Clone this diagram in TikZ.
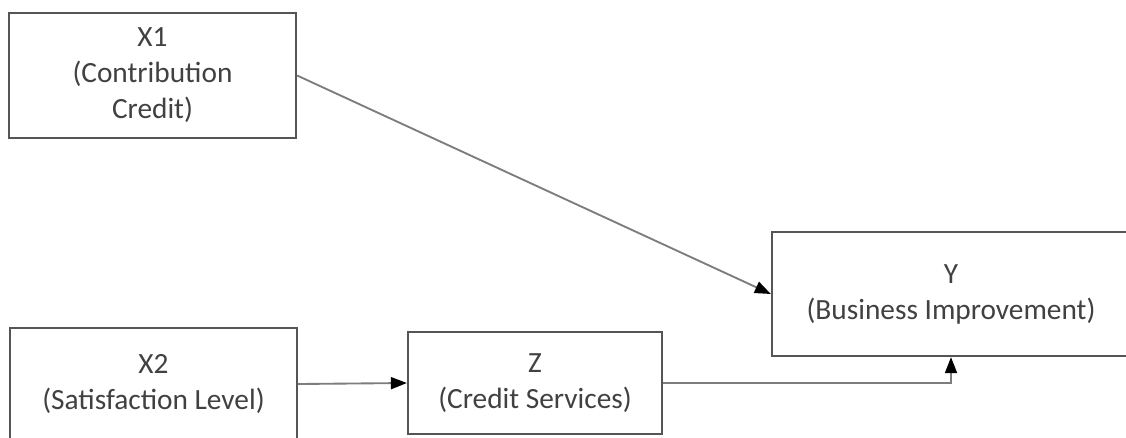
\documentclass[tikz,border=0pt]{standalone}
\usepackage{fontspec}
\setmainfont{Carlito}
\usepackage{tikz}
\usetikzlibrary{arrows.meta}

\definecolor{boxgray}{RGB}{85,85,85}
\definecolor{linegray}{RGB}{125,125,125}
\definecolor{textgray}{RGB}{65,65,65}

\tikzset{
  varbox/.style={draw=boxgray, line width=1.7pt, fill=white, align=center,
    text=textgray, inner sep=0pt, font=\fontsize{22pt}{27pt}\selectfont},
  pathline/.style={draw=linegray, line width=1.4pt,
    -{Triangle[length=12pt,width=9pt,fill=black,color=black]}}
}

\begin{document}
\begin{tikzpicture}[x=0.75pt,y=0.75pt,yscale=-1,xscale=1]
        \useasboundingbox (0,0) rectangle (1126,437);

        %Shape: Rectangle [X1]
        \node [varbox, minimum width=0.75*287pt, minimum height=0.75*125pt] (x1) at (152.5,75.5) {X1\\(Contribution\\Credit)};
        %Shape: Rectangle [X2]
        \node [varbox, minimum width=0.75*287pt, minimum height=0.75*112pt] (x2) at (153.5,384) {X2\\(Satisfaction Level)};
        %Shape: Rectangle [Z]
        \node [varbox, minimum width=0.75*254pt, minimum height=0.75*102pt] (z) at (535,383) {Z\\(Credit Services)};
        %Shape: Rectangle [Y]
        \node [varbox, minimum width=0.75*358pt, minimum height=0.75*124pt] (y) at (951,294) {Y\\(Business Improvement)};

        %Straight Lines [X1 -> Y]
        \draw [pathline] (x1.east) -- (y.west) ;
        %Straight Lines [X2 -> Z]
        \draw [pathline] (x2.east) -- (z.west) ;
        %Straight Lines [Z -> Y]
        \draw [pathline] (z.east) -| (y.south) ;

    \end{tikzpicture}
\end{document}
